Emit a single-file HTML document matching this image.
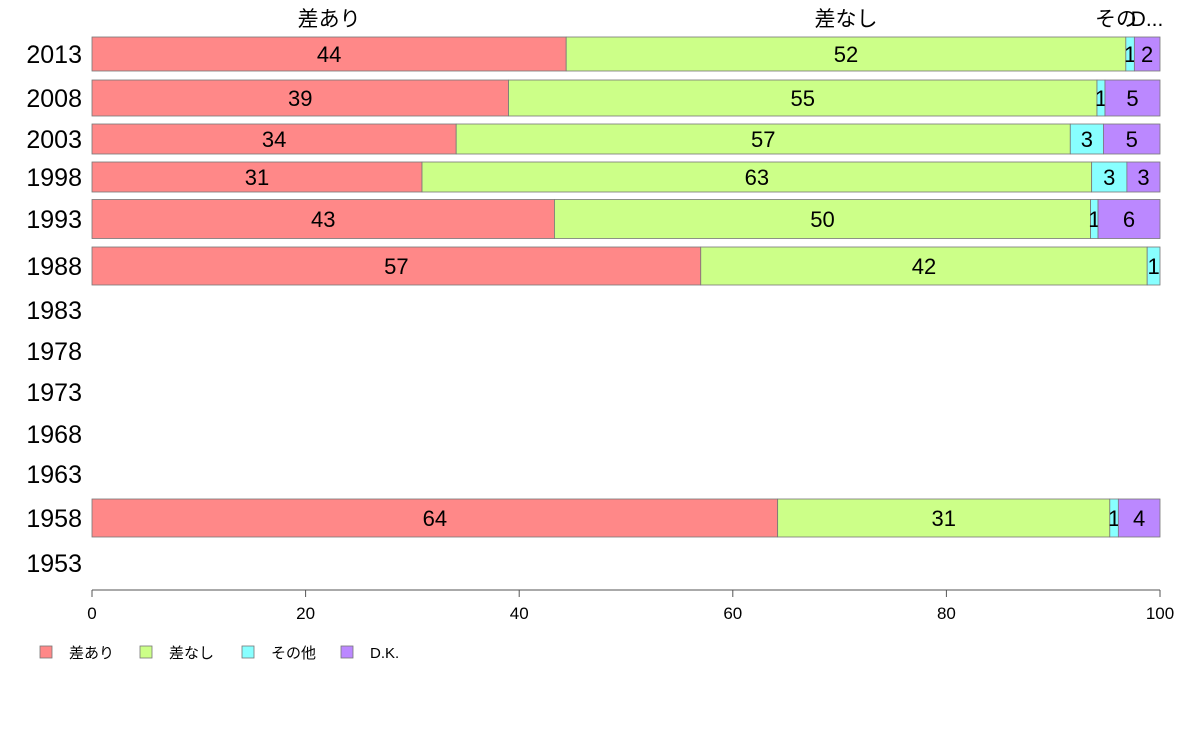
<!DOCTYPE html>
<html><head><meta charset="utf-8"><style>
body{margin:0;background:#fff;font-family:"Liberation Sans","Noto Sans CJK JP",sans-serif;}
</style></head><body>
<svg id="chart" width="1188" height="736" xmlns="http://www.w3.org/2000/svg" font-family="Liberation Sans, Noto Sans CJK JP, sans-serif"></svg>
<script>
const categories = ["差あり","差なし","その他","D.K."];
const colors = ["#ff8888","#ccff88","#88ffff","#bb88ff"];
const years = ["2013","2008","2003","1998","1993","1988","1983","1978","1973","1968","1963","1958","1953"];
const yearCenters = [54,98,139,177,219,266,310,351,392,434,474,518,563];
const barHeights = [34,36,30,30,39,38,0,0,0,0,0,38,0];
const seriesSa = [44.4,39.0,34.1,30.9,43.3,57.0,null,null,null,null,null,64.2,null];
const seriesNashi = [52.4,55.1,57.5,62.7,50.2,41.8,null,null,null,null,null,31.1,null];
const seriesOther = [0.8,0.75,3.1,3.3,0.7,1.2,null,null,null,null,null,0.8,null];
const seriesDK = [2.4,5.15,5.3,3.1,5.8,0,null,null,null,null,null,3.9,null];
const labelsSa = [44,39,34,31,43,57,null,null,null,null,null,64,null];
const labelsNashi = [52,55,57,63,50,42,null,null,null,null,null,31,null];
const labelsOther = [1,1,3,3,1,1,null,null,null,null,null,1,null];
const labelsDK = [2,5,5,3,6,null,null,null,null,null,null,4,null];
const xTicks = [0,20,40,60,80,100];

const svg = document.getElementById('chart');
const NS = "http://www.w3.org/2000/svg";
const x = v => 92 + v * (1160 - 92) / 100;
function mk(tag, attrs, parent){const e=document.createElementNS(NS,tag);for(const k in attrs)e.setAttribute(k,attrs[k]);(parent||svg).appendChild(e);return e;}

const series=[seriesSa,seriesNashi,seriesOther,seriesDK];
const labels=[labelsSa,labelsNashi,labelsOther,labelsDK];
const segNames=["sa","nashi","other","dk"];

years.forEach((yr,i)=>{
  const t=mk('text',{x:82,y:yearCenters[i]+9,'text-anchor':'end','font-size':25,fill:'#000'});
  t.textContent=yr;
  
  
  if(seriesSa[i]===null) return;
  let cum=0;
  const h=barHeights[i], top=yearCenters[i]-h/2;
  series.forEach((s,k)=>{
    const v=s[i]; if(!v) {cum+=v||0; return;}
    const r=mk('rect',{x:x(cum),y:top,width:x(cum+v)-x(cum),height:h,fill:colors[k],stroke:'#777','stroke-width':0.8});
    
    
    const lb=labels[k][i];
    if(lb!==null){
      const tx=mk('text',{x:(x(cum)+x(cum+v))/2,y:yearCenters[i]+8,'text-anchor':'middle','font-size':22,fill:'#000'});
      tx.textContent=lb;
      
      
    }
    cum+=v;
  });
});

// top category labels over first bar
const topLabels=[["差あり",(x(0)+x(seriesSa[0]))/2,'middle'],["差なし",(x(seriesSa[0])+x(seriesSa[0]+seriesNashi[0]))/2,'middle'],["その",1116,'middle'],["D...",1147,'middle']];
topLabels.forEach((l,i)=>{
  const t=mk('text',{x:l[1],y:26,'text-anchor':l[2],'font-size':21,fill:'#000'});
  t.textContent=l[0];
  
  
});

// x axis
const ax=mk('line',{x1:x(0),x2:x(100),y1:590,y2:590,stroke:'#555','stroke-width':1});


xTicks.forEach(v=>{
  const tk=mk('line',{x1:x(v),x2:x(v),y1:590,y2:597,stroke:'#555'});
  
  
  const t=mk('text',{x:x(v),y:619,'text-anchor':'middle','font-size':17,fill:'#000'});
  t.textContent=v;
  
  
});

// legend
const legX=[40,140,242,341];
categories.forEach((c,k)=>{
  const r=mk('rect',{x:legX[k],y:646,width:12,height:12,fill:colors[k],stroke:'#777','stroke-width':0.8});
  
  
  const t=mk('text',{x:legX[k]+29,y:658,'font-size':15,fill:'#000'});
  t.textContent=c;
  
  
});
</script>
</body></html>
